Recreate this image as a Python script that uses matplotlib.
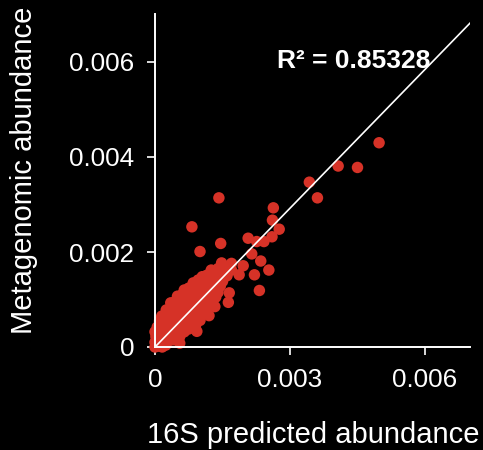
import matplotlib
matplotlib.use("Agg")
import matplotlib.pyplot as plt
import numpy as np

plt.rcParams['font.family'] = ['Liberation Sans', 'DejaVu Sans']

# Abundances, in units of 1e-4
pred_16s = [
    # dense core near the origin
    0, 0.8, 1.6, 2.4,
    0, 1, 2, 3, 4, 5.5,
    0.2, 1.2, 2.2, 3.2, 4.2, 5.5,
    0, 1, 2, 3, 4, 5, 6.5, 7.5, 9.3,
    0.5, 1.5, 2.5, 3.5, 4.5, 5.5, 6.5, 8, 9,
    1, 2, 3, 4, 5, 6, 7, 8.5, 10,
    1.5, 2.5, 3.5, 4.5, 5.5, 6.5, 7.5, 9, 10.5, 11.5, 12.0,
    2.5, 3.5, 4.5, 5.5, 6.5, 7.5, 8.5, 10, 11.5, 12.5,
    3.5, 4.5, 5.5, 6.5, 7.5, 8.5, 9.5, 11, 12.5, 13.5,
    5, 6, 7, 8, 9, 10, 11, 12.5, 14,
    6.5, 7.5, 8.5, 9.5, 10.5, 11.5, 13, 14.5,
    8.5, 9.5, 10.5, 11.5, 12.5, 13.5, 15,
    10.5, 11.5, 12.5, 13.5, 15, 16,
    12.5, 14, 15.5, 17,
    # scattered taxa
    49.8, 45.0, 40.7, 34.3, 36.1, 26.3, 26.1, 14.2, 27.6, 8.2,
    20.7, 26.0, 24.2, 22.6, 14.6, 10.0, 21.5, 23.5, 25.3, 22.1,
    18.7, 19.6, 23.2, 16.3, 16.5, 17.0, 14.8, 12.6, 9.6, 13.3,
]
meta = [
    0, 0.2, 0, 0.4,
    1, 1.2, 1, 1.3, 1.5, 0.8,
    2.2, 2, 2.4, 2.2, 2.6, 2.2,
    3.2, 3.4, 3.2, 3.6, 3.3, 3.6, 3.2, 3.8, 3.3,
    4.2, 4.5, 4.3, 4.6, 4.3, 4.8, 4.5, 4.8, 4.5,
    5.5, 5.6, 5.3, 5.8, 5.5, 5.8, 5.5, 5.8, 5.6,
    6.5, 6.8, 6.5, 6.9, 6.6, 7, 6.7, 7, 6.8, 7.2, 6.6,
    7.8, 8.2, 8, 8.3, 8, 8.4, 8.1, 8.3, 8.5, 9,
    9.3, 9.6, 9.4, 9.8, 9.5, 9.8, 9.5, 9.8, 10, 10.5,
    10.7, 11, 10.8, 11.2, 10.9, 11.2, 11, 11.3, 11.5,
    12, 12.4, 12.2, 12.5, 12.3, 12.6, 12.5, 12.8,
    13.5, 13.8, 13.5, 13.9, 13.6, 14, 13.8,
    14.8, 15.1, 14.9, 15.3, 15.2, 15,
    16.2, 16.5, 16.6, 16.2,
    43.0, 37.8, 38.1, 34.7, 31.4, 29.3, 26.7, 31.4, 24.8, 25.3,
    22.9, 23.2, 22.2, 22.2, 21.8, 20.1, 19.6, 18.1, 16.2, 15.2,
    15.2, 17.1, 11.9, 9.4, 11.4, 17.6, 17.7, 15.5, 14.1, 8.5,
]
UNIT = 1e-4

fit_slope = 0.974
r_squared = 0.85328
x_ticks = [0, 0.003, 0.006]
x_tick_labels = ["0", "0.003", "0.006"]
y_ticks = [0, 0.002, 0.004, 0.006]
y_tick_labels = ["0", "0.002", "0.004", "0.006"]

x = np.array(pred_16s) * UNIT
y = np.array(meta) * UNIT

fig = plt.figure(figsize=(4.83, 4.5), dpi=100, facecolor="black")
ax = fig.add_axes([155 / 483, 1 - 347 / 450, 315 / 483, 0.007 * 47500 / 450])
ax.set_facecolor("black")

ax.scatter(x, y, s=68, color="#D63227", edgecolors="none", zorder=2, clip_on=False)

line_x = np.array([0, 0.007])
ax.plot(line_x, fit_slope * line_x, color="white", lw=1.2, zorder=3)

ax.text(0.00271, 0.00587, f"R² = {r_squared:.5f}", color="white",
        fontsize=19, fontweight="bold", ha="left", va="baseline")

ax.set_xlim(0, 0.007)
ax.set_ylim(0, 0.007)
ax.set_xticks(x_ticks)
ax.set_xticklabels(x_tick_labels)
ax.set_yticks(y_ticks)
ax.set_yticklabels(y_tick_labels)

for side in ("top", "right"):
    ax.spines[side].set_visible(False)
for side in ("left", "bottom"):
    ax.spines[side].set_color("white")
    ax.spines[side].set_linewidth(1.4)

ax.tick_params(colors="white", labelcolor="white", direction="out",
               length=6, width=1.2, labelsize=18.7, pad=9)

fig.text(313 / 483, (450 - 443) / 450, "16S predicted abundance", color="white",
         fontsize=21, ha="center", va="baseline")
fig.text(24 / 483, (450 - 334) / 450, "Metagenomic abundance", color="white",
         fontsize=21, rotation=90, ha="center", va="bottom")

fig.savefig("out.png", dpi=100, facecolor="black")
